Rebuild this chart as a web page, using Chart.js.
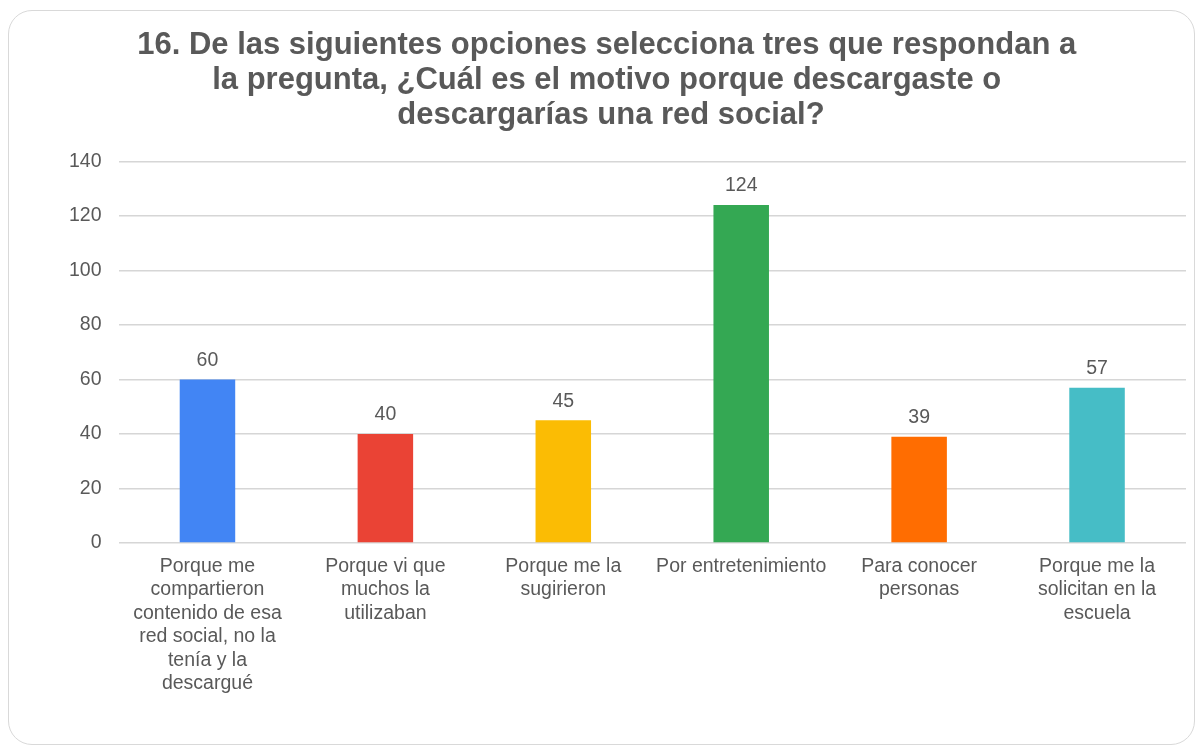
<!DOCTYPE html>
<html lang="es">
<head>
<meta charset="utf-8">
<title>Motivo para descargar una red social</title>
<script src="https://cdn.jsdelivr.net/npm/chart.js@4.4.1/dist/chart.umd.min.js"></script>
<style>
  html, body {
    margin: 0;
    padding: 0;
    background: #ffffff;
    overflow: hidden;
  }
  #card {
    position: absolute;
    left: 8px;
    top: 10px;
    width: 1187px;
    height: 735px;
    box-sizing: border-box;
    border: 1.5px solid #d9d9d9;
    border-radius: 24px;
  }
  #chart {
    position: absolute;
    left: 0;
    top: 12px;
  }
</style>
</head>
<body>
<div id="card"></div>
<canvas id="chart" width="1199" height="733"></canvas>
<script>
"use strict";

const titleLines = [
  '16. De las siguientes opciones selecciona tres que respondan a ',
  'la pregunta, ¿Cuál es el motivo porque descargaste o ',
  'descargarías una red social?'
];

// category labels, already split in lines
const categories = [
  ['Porque me', 'compartieron', 'contenido de esa', 'red social, no la', 'tenía y la', 'descargué'],
  ['Porque vi que', 'muchos la', 'utilizaban'],
  ['Porque me la', 'sugirieron'],
  ['Por entretenimiento'],
  ['Para conocer', 'personas'],
  ['Porque me la', 'solicitan en la', 'escuela']
];

const answers = [60, 40, 45, 124, 39, 57];

const barColors = ['#4285f4', '#ea4335', '#fbbc04', '#34a853', '#ff6d01', '#46bdc6'];

const yTicks = { min: 0, max: 140, step: 20 };

const textColor = '#595959';
const fontFamily = '"Liberation Sans", Arial, sans-serif';

/**
 * Writes each bar's value just above it.
 */
const valueLabels = {
  id: 'valueLabels',
  afterDatasetsDraw(chart) {
    const ctx = chart.ctx;
    ctx.save();
    ctx.font = `19.5px ${fontFamily}`;
    ctx.fillStyle = textColor;
    ctx.textAlign = 'center';
    ctx.textBaseline = 'middle';
    chart.data.datasets.forEach((dataset, i) => {
      chart.getDatasetMeta(i).data.forEach((bar, j) => {
        ctx.fillText(String(dataset.data[j]), bar.x, bar.y - 19);
      });
    });
    ctx.restore();
  }
};

new Chart(document.getElementById('chart'), {
  type: 'bar',
  data: {
    labels: categories,
    datasets: [{
      data: answers,
      backgroundColor: barColors,
      borderWidth: 0,
      barPercentage: 1,
      categoryPercentage: 0.312
    }]
  },
  options: {
    responsive: false,
    animation: false,
    devicePixelRatio: 1,
    layout: {
      padding: { left: 36, right: 13, top: 0, bottom: 0 }
    },
    plugins: {
      legend: { display: false },
      tooltip: { enabled: false },
      title: {
        display: true,
        text: titleLines,
        color: textColor,
        font: { family: fontFamily, size: 31, weight: 'bold', lineHeight: 1.129 },
        padding: { top: 15.5, bottom: 29 }
      }
    },
    scales: {
      x: {
        grid: { display: false, drawTicks: false },
        border: { display: false },
        ticks: {
          color: textColor,
          padding: 12,
          maxRotation: 0,
          autoSkip: false,
          font: { family: fontFamily, size: 19.5, lineHeight: 1.2 }
        },
        afterFit(scale) {
          scale.height = 202;
        }
      },
      y: {
        min: yTicks.min,
        max: yTicks.max,
        grid: {
          color: '#d6d6d6',
          lineWidth: 1.5,
          drawTicks: false
        },
        border: { display: false },
        ticks: {
          stepSize: yTicks.step,
          color: textColor,
          padding: 17,
          font: { family: fontFamily, size: 19.5 }
        },
        afterFit(scale) {
          scale.width = 82.5;
        }
      }
    }
  },
  plugins: [valueLabels]
});
</script>
</body>
</html>
